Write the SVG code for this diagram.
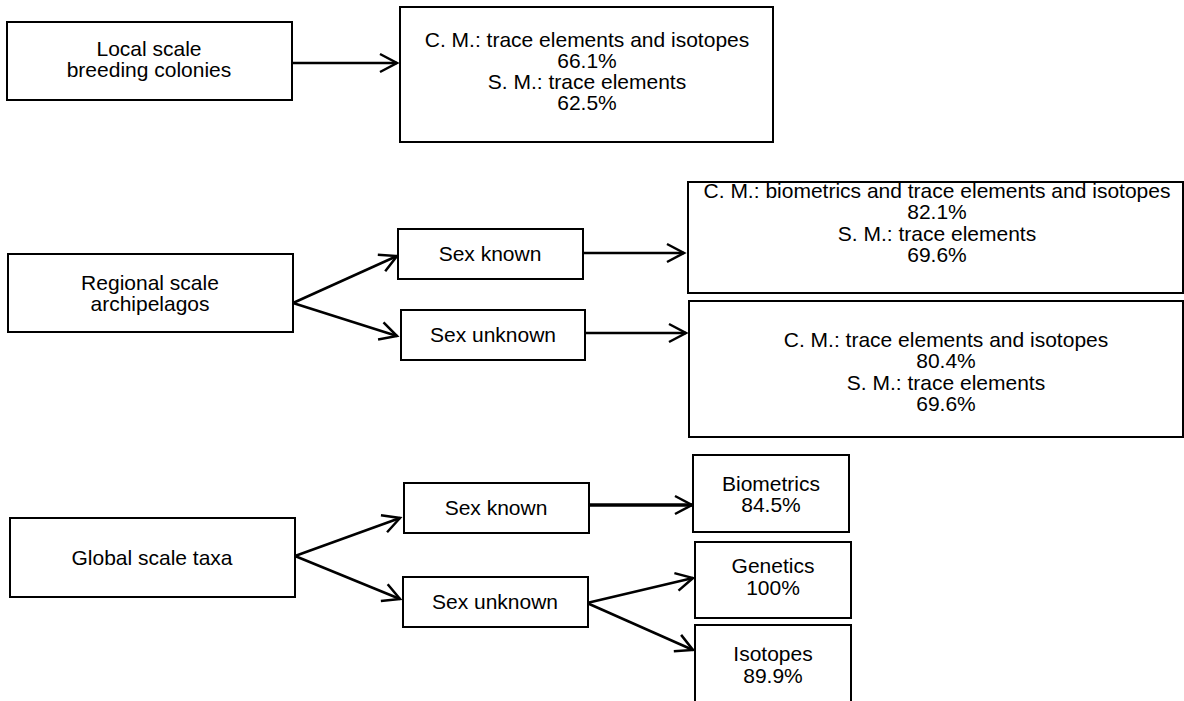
<svg xmlns="http://www.w3.org/2000/svg" width="1184" height="701" viewBox="0 0 1184 701">
<style>
.box{fill:#fff;stroke:#000;stroke-width:2}
text{font-family:"Liberation Sans",Arial,Helvetica,sans-serif;font-size:21px;fill:#000;text-anchor:middle}
.con{stroke:#000;stroke-width:2.5;fill:none;marker-end:url(#arr)}
</style>
<defs>
<marker id="arr" markerUnits="userSpaceOnUse" viewBox="-22 -12 26 24" markerWidth="26" markerHeight="24" refX="0" refY="0" orient="auto" overflow="visible">
<path d="M-17,-9 L0,0 L-17,9" fill="none" stroke="#000" stroke-width="2.5"/>
</marker>
</defs>
<rect width="1184" height="701" fill="#fff"/>
<g id="connectors">
<line class="con" x1="292" y1="63" x2="397" y2="63"/>
<line class="con" x1="293" y1="303" x2="397" y2="256"/>
<line class="con" x1="293" y1="303" x2="397" y2="336"/>
<line class="con" x1="583" y1="253" x2="684" y2="253"/>
<line class="con" x1="585" y1="333" x2="686" y2="333"/>
<line class="con" x1="295" y1="556" x2="400" y2="518"/>
<line class="con" x1="295" y1="556" x2="400" y2="599"/>
<line class="con" x1="588" y1="505" x2="692" y2="505" style="stroke-width:3.5"/>
<line class="con" x1="587" y1="603" x2="693" y2="578"/>
<line class="con" x1="587" y1="603" x2="693" y2="650"/>
</g>
<g id="local">
<rect class="box" x="7" y="22" width="285" height="78"/>
<text x="149" y="56">Local scale</text>
<text x="149" y="77">breeding colonies</text>
</g>
<g id="local-result">
<rect class="box" x="400" y="7" width="373" height="135"/>
<text x="587" y="47">C. M.: trace elements and isotopes</text>
<text x="587" y="68">66.1%</text>
<text x="587" y="89">S. M.: trace elements</text>
<text x="587" y="110">62.5%</text>
</g>
<g id="regional">
<rect class="box" x="8" y="254" width="285" height="78"/>
<text x="150" y="290">Regional scale</text>
<text x="150" y="311">archipelagos</text>
</g>
<g id="regional-sex-known">
<rect class="box" x="398" y="229" width="185" height="50"/>
<text x="490" y="261">Sex known</text>
</g>
<g id="regional-sex-unknown">
<rect class="box" x="401" y="310" width="184" height="50"/>
<text x="493" y="342">Sex unknown</text>
</g>
<g id="regional-known-result">
<rect class="box" x="688" y="182" width="495" height="111"/>
<text x="937" y="198">C. M.: biometrics and trace elements and isotopes</text>
<text x="937" y="219">82.1%</text>
<text x="937" y="241">S. M.: trace elements</text>
<text x="937" y="262">69.6%</text>
</g>
<g id="regional-unknown-result">
<rect class="box" x="689" y="301" width="494" height="136"/>
<text x="946" y="347">C. M.: trace elements and isotopes</text>
<text x="946" y="368">80.4%</text>
<text x="946" y="390">S. M.: trace elements</text>
<text x="946" y="411">69.6%</text>
</g>
<g id="global">
<rect class="box" x="10" y="518" width="285" height="79"/>
<text x="152" y="565">Global scale taxa</text>
</g>
<g id="global-sex-known">
<rect class="box" x="404" y="483" width="185" height="50"/>
<text x="496" y="515">Sex known</text>
</g>
<g id="global-sex-unknown">
<rect class="box" x="403" y="577" width="185" height="50"/>
<text x="495" y="609">Sex unknown</text>
</g>
<g id="biometrics">
<rect class="box" x="693" y="455" width="156" height="77"/>
<text x="771" y="491">Biometrics</text>
<text x="771" y="512">84.5%</text>
</g>
<g id="genetics">
<rect class="box" x="695" y="542" width="156" height="76"/>
<text x="773" y="573">Genetics</text>
<text x="773" y="595">100%</text>
</g>
<g id="isotopes">
<rect class="box" x="695" y="625" width="156" height="78"/>
<text x="773" y="661">Isotopes</text>
<text x="773" y="683">89.9%</text>
</g>
</svg>
